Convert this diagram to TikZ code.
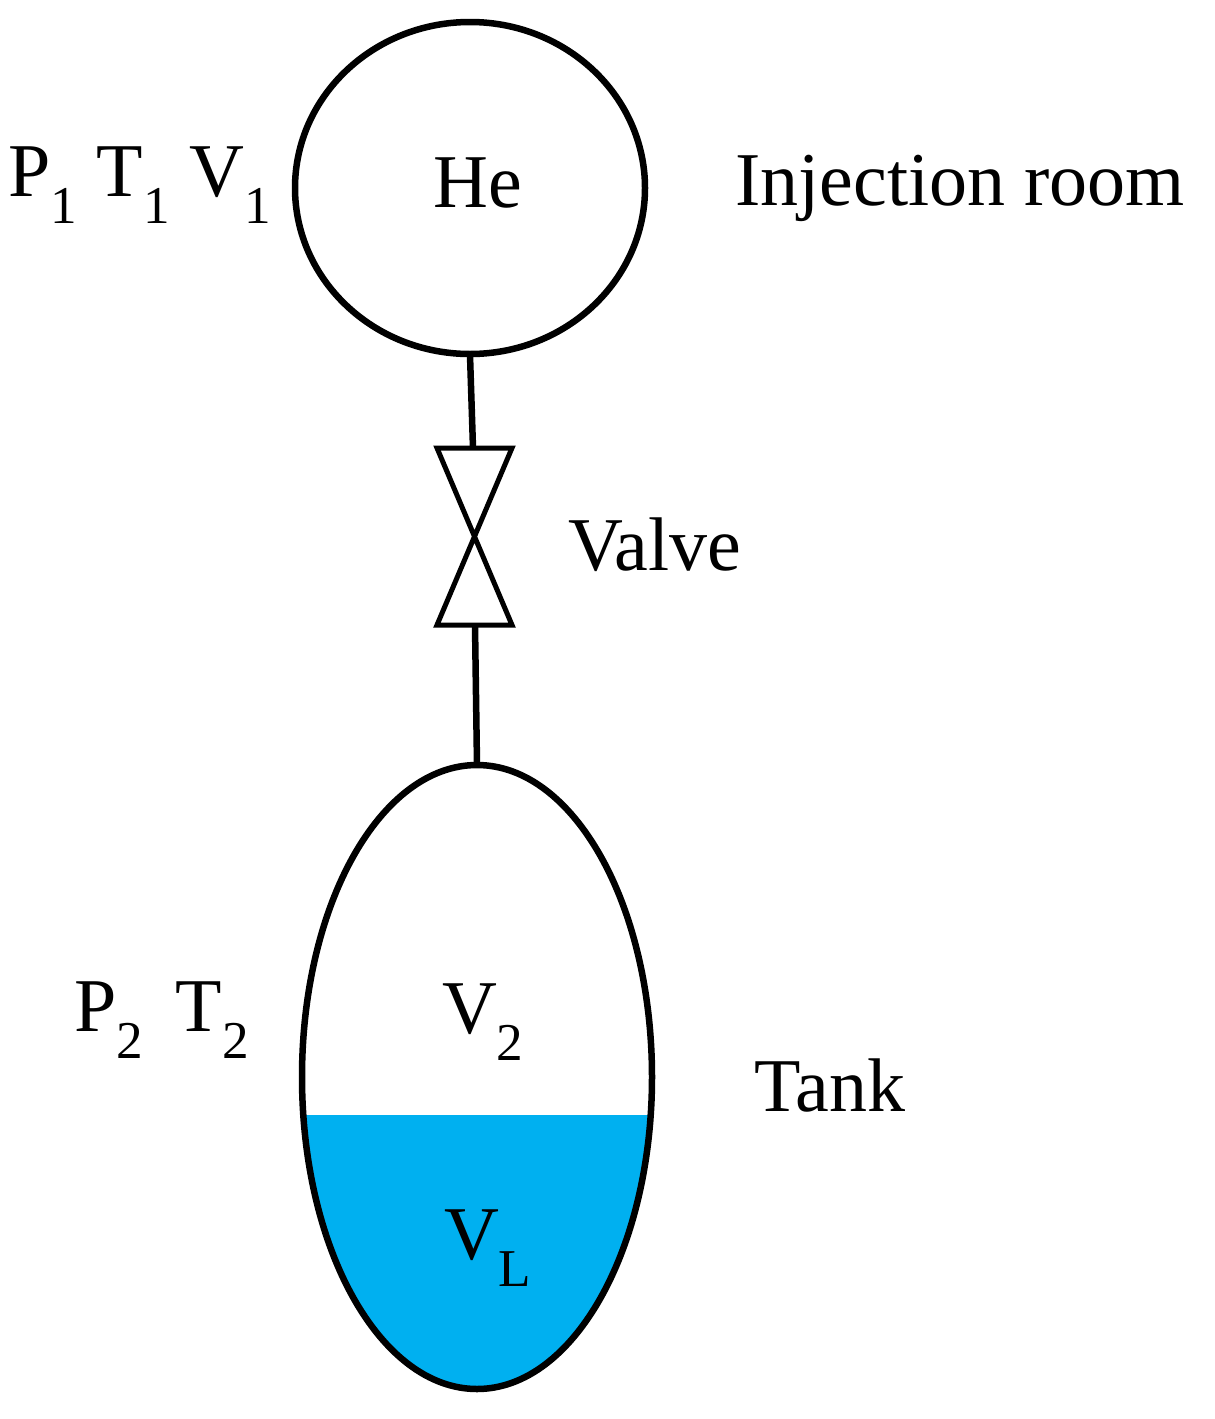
\documentclass[tikz,border=0pt]{standalone}
\usepackage{fontspec}
\setmainfont{Liberation Serif}
\definecolor{liq}{RGB}{0,176,240}
\begin{document}
\begin{tikzpicture}[x=1pt,y=-1pt,line width=6.5pt,
  lab/.style={font=\fontsize{76}{80}\selectfont}]
\useasboundingbox (0,0) rectangle (1215,1419);
\begin{scope}
\clip (0,1115) rectangle (1215,1419);
\fill[liq] (477,1077) ellipse [x radius=175, y radius=312];
\end{scope}
\draw (470,188) ellipse [x radius=175, y radius=166];
\draw (477,1077) ellipse [x radius=175, y radius=312];
\coordinate (c1) at (470,355);
\coordinate (vt) at (473,448);
\coordinate (vb) at (475,625);
\coordinate (t1) at (477,765);
\draw (c1) -- (vt);
\draw (vb) -- (t1);
\draw[line width=5pt,line join=miter] (437,448) -- (512,448) -- (437,625) -- (512,625) -- cycle;
\node[lab] (he) at (478,183) {He};
\node[lab] (inj) at (960,188) {Injection room};
\node[lab] (valve) at (655,545) {Valve};
\node[lab] (tank) at (830,1085) {Tank};
\node[lab] (p1) at (140,185) {P$_{\mathrm{1}}$ T$_{\mathrm{1}}$ V$_{\mathrm{1}}$};
\node[lab] (p2) at (162,1020) {P$_{\mathrm{2}}$\, T$_{\mathrm{2}}$};
\node[lab] (v2) at (483,1022) {V$_{\mathrm{2}}$};
\node[lab] (vl) at (488,1248) {V$_{\mathrm{L}}$};
\end{tikzpicture}
\end{document}
